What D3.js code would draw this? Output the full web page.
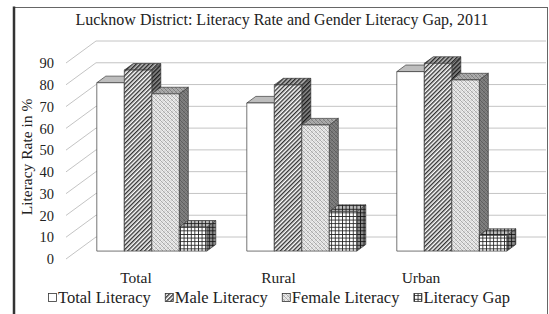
<!DOCTYPE html>
<html>
<head>
<meta charset="utf-8">
<script src="https://cdn.jsdelivr.net/npm/d3@7"></script>
<style>
  html, body { margin: 0; padding: 0; background: #fff; }
  svg text { font-family: "Liberation Serif", "Times New Roman", serif; fill: #222; }
</style>
</head>
<body>
<div class="chart"></div>
<script>
/* Data
============================================= */
const categories = ["Total", "Rural", "Urban"];
const seriesNames = ["Total Literacy", "Male Literacy", "Female Literacy", "Literacy Gap"];
const totalLiteracy = [77.3, 68.0, 82.4];
const maleLiteracy = [83.1, 76.3, 86.2];
const femaleLiteracy = [72.2, 57.9, 78.6];
const literacyGap = [11.0, 18.2, 7.2];
const yTicks = [0, 10, 20, 30, 40, 50, 60, 70, 80, 90];

/* Global Constants
============================================= */
const SVG_WIDTH = 549;
const SVG_HEIGHT = 314;

// oblique depth of the whole floor, and where the bars sit in it
const DEPTH_X = 30;
const DEPTH_Y = 22;
const BAR_FRONT = 0.36;
const BAR_BACK = 0.66;

const seriesValues = [totalLiteracy, maleLiteracy, femaleLiteracy, literacyGap];
const seriesFill = ["#ffffff", "url(#pat-male)", "url(#pat-female)", "url(#pat-gap)"];

var svg = d3.select(".chart")
    .append("svg")
    .attr("width", SVG_WIDTH)
    .attr("height", SVG_HEIGHT);

// front plane scales
var yScale = d3.scaleLinear().domain([0, 90]).range([259, 63]);
var xCat = d3.scaleBand().domain(categories).range([66, 516]);
var xSeries = d3.scaleBand().domain(seriesNames).range([20, 130]);
var xLabel = d3.scalePoint().domain(categories).range([136, 421]);

/* Patterns
============================================= */
var defs = svg.append("defs");

var pMale = defs.append("pattern")
    .attr("id", "pat-male")
    .attr("patternUnits", "userSpaceOnUse")
    .attr("width", 3)
    .attr("height", 3)
    .attr("patternTransform", "rotate(45)");
pMale.append("rect").attr("width", 3).attr("height", 3).attr("fill", "#fff");
pMale.append("rect").attr("width", 1.4).attr("height", 3).attr("fill", "#333");

var pFemale = defs.append("pattern")
    .attr("id", "pat-female")
    .attr("patternUnits", "userSpaceOnUse")
    .attr("width", 4)
    .attr("height", 4);
pFemale.append("rect").attr("width", 4).attr("height", 4).attr("fill", "#f0f0f0");
pFemale.append("path")
    .attr("d", "M0,0L4,4M-1,3L1,5M3,-1L5,1")
    .attr("stroke", "#9a9a9a").attr("stroke-width", 0.8);
pFemale.append("rect").attr("x", 2.6).attr("y", 0.4).attr("width", 1).attr("height", 1).attr("fill", "#a8a8a8");
pFemale.append("rect").attr("x", 0.4).attr("y", 2.6).attr("width", 1).attr("height", 1).attr("fill", "#a8a8a8");

var pGap = defs.append("pattern")
    .attr("id", "pat-gap")
    .attr("patternUnits", "userSpaceOnUse")
    .attr("width", 3.6)
    .attr("height", 3.6);
pGap.append("rect").attr("width", 3.6).attr("height", 3.6).attr("fill", "#fff");
pGap.append("path").attr("d", "M0,0.4H3.6M0.4,0V3.6")
    .attr("stroke", "#222").attr("stroke-width", 0.9);

/* Frame
============================================= */
svg.append("rect")
    .attr("x", 13.5).attr("y", 7.5)
    .attr("width", 534).attr("height", 320)
    .attr("fill", "#fff")
    .attr("stroke", "#666");
svg.append("line")
    .attr("x1", 14).attr("x2", 14)
    .attr("y1", 6.5).attr("y2", SVG_HEIGHT)
    .attr("stroke", "#333").attr("stroke-width", 2.5);

/* Walls and gridlines
============================================= */
var grid = svg.append("g");
var x0 = xCat.range()[0], x1 = xCat.range()[1];

grid.selectAll("line.back")
    .data(yTicks)
    .enter()
    .append("line")
    .attr("x1", x0 + DEPTH_X)
    .attr("x2", x1 + DEPTH_X)
    .attr("y1", function(d) { return yScale(d) - DEPTH_Y; })
    .attr("y2", function(d) { return yScale(d) - DEPTH_Y; })
    .attr("stroke", "#c4c4c4");

grid.selectAll("line.side")
    .data(yTicks)
    .enter()
    .append("line")
    .attr("x1", x0)
    .attr("x2", x0 + DEPTH_X)
    .attr("y1", function(d) { return yScale(d); })
    .attr("y2", function(d) { return yScale(d) - DEPTH_Y; })
    .attr("stroke", "#c4c4c4");

svg.append("g").selectAll("text")
    .data(yTicks)
    .enter()
    .append("text")
    .attr("x", 54)
    .attr("y", function(d) { return yScale(d); })
    .attr("dy", "0.36em")
    .attr("text-anchor", "end")
    .style("font-size", "14.5px")
    .text(function(d) { return d; });

/* Bars
============================================= */
function pt(x, v, d) {
    return [x + d * DEPTH_X, yScale(v) - d * DEPTH_Y];
}

function poly(points) {
    return points.map(function(p) { return p.join(","); }).join(" ");
}

var bars = svg.append("g");

categories.forEach(function(cat, ci) {
    seriesNames.forEach(function(name, si) {
        var v = seriesValues[si][ci];
        var xa = xCat(cat) + xSeries(name);
        var xb = xa + xSeries.bandwidth();
        var g = bars.append("g");

        var faces = [
            { pts: [pt(xb, 0, BAR_FRONT), pt(xb, v, BAR_FRONT), pt(xb, v, BAR_BACK), pt(xb, 0, BAR_BACK)], shade: 0.45 },
            { pts: [pt(xa, v, BAR_FRONT), pt(xb, v, BAR_FRONT), pt(xb, v, BAR_BACK), pt(xa, v, BAR_BACK)], shade: 0.26 },
            { pts: [pt(xa, 0, BAR_FRONT), pt(xb, 0, BAR_FRONT), pt(xb, v, BAR_FRONT), pt(xa, v, BAR_FRONT)], shade: 0 }
        ];

        faces.forEach(function(f) {
            g.append("polygon")
                .attr("points", poly(f.pts))
                .attr("fill", seriesFill[si]);
            g.append("polygon")
                .attr("points", poly(f.pts))
                .attr("fill", "#000")
                .attr("fill-opacity", f.shade)
                .attr("stroke", "#3a3a3a")
                .attr("stroke-width", 0.7)
                .attr("stroke-linejoin", "round");
        });
    });
});

/* Text
============================================= */
svg.append("text")
    .attr("x", 282)
    .attr("y", 25)
    .attr("text-anchor", "middle")
    .style("font-size", "16px")
    .text("Lucknow District: Literacy Rate and Gender Literacy Gap, 2011");

svg.append("text")
    .attr("transform", "translate(32, 157) rotate(-90)")
    .attr("text-anchor", "middle")
    .style("font-size", "15.5px")
    .text("Literacy Rate in %");

svg.append("g").selectAll("text")
    .data(categories)
    .enter()
    .append("text")
    .attr("x", function(d) { return xLabel(d); })
    .attr("y", 283)
    .attr("text-anchor", "middle")
    .style("font-size", "15.5px")
    .text(function(d) { return d; });

/* Legend
============================================= */
var legend = svg.append("g");
var lx = 48;

seriesNames.forEach(function(name, si) {
    legend.append("rect")
        .attr("x", lx + 0.5)
        .attr("y", 293.5)
        .attr("width", 8)
        .attr("height", 8)
        .attr("fill", seriesFill[si])
        .attr("stroke", "#333")
        .attr("stroke-width", 0.8);
    var t = legend.append("text")
        .attr("x", lx + 10)
        .attr("y", 303)
        .style("font-size", "16.5px")
        .text(name);
    lx += 10 + t.node().getComputedTextLength() + 14;
});
</script>
</body>
</html>
